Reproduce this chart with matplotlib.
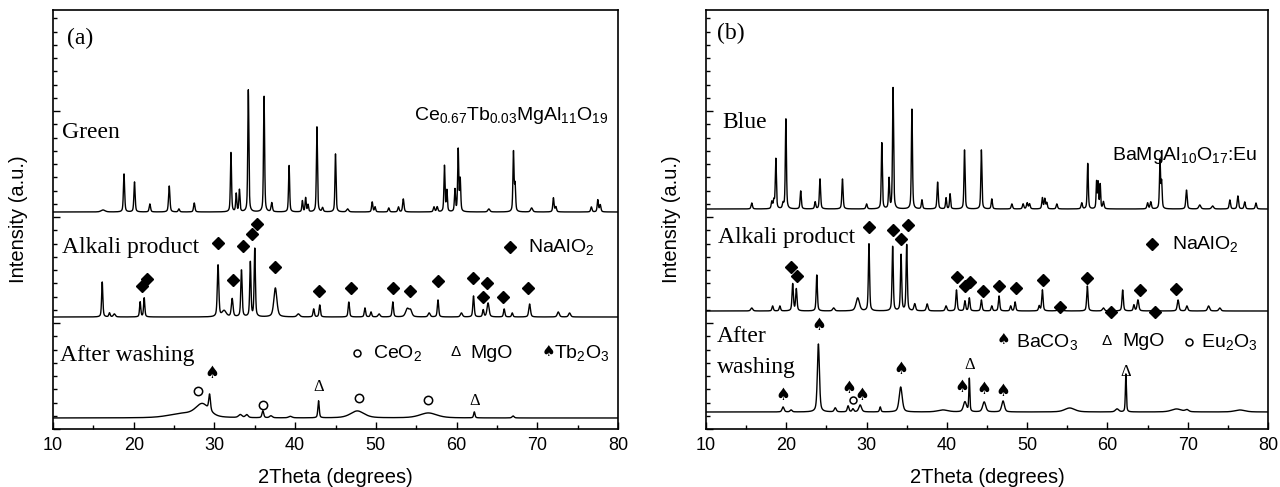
import matplotlib
matplotlib.use("Agg")
import matplotlib.pyplot as plt
from matplotlib.ticker import MultipleLocator
import numpy as np

plt.rcParams['font.family'] = ['Liberation Sans', 'DejaVu Sans']
plt.rcParams['mathtext.fontset'] = 'custom'
plt.rcParams['mathtext.rm'] = 'Liberation Sans'
plt.rcParams['mathtext.default'] = 'regular'

# peaks: (2theta, height, fwhm); heights in plot units
green_peaks = [(16.2, 2, 0.6), (18.8, 38, 0.18), (20.1, 30, 0.18), (22.0, 8, 0.2), (24.4, 26, 0.2),
               (25.6, 3, 0.2), (27.5, 9, 0.2), (32.05, 60, 0.16), (32.7, 18, 0.16), (33.1, 22, 0.16),
               (34.2, 122, 0.16), (36.15, 117, 0.16), (37.1, 9, 0.2), (39.25, 47, 0.16), (40.9, 11, 0.16),
               (41.3, 14, 0.16), (41.6, 7, 0.16), (42.7, 85, 0.16), (43.4, 4, 0.2), (45.0, 58, 0.16),
               (46.5, 3, 0.3), (49.55, 10, 0.18), (49.9, 5, 0.18), (51.6, 4, 0.2), (52.8, 5, 0.2),
               (53.4, 13, 0.2), (57.2, 5, 0.2), (57.6, 5, 0.2), (58.5, 46, 0.16), (58.8, 21, 0.16),
               (59.8, 22, 0.16), (60.2, 62, 0.16), (60.45, 32, 0.16), (64.0, 3, 0.3), (67.05, 60, 0.16),
               (67.25, 26, 0.16), (69.3, 4, 0.3), (72.0, 14, 0.18), (72.3, 5, 0.2), (76.7, 5, 0.2),
               (77.5, 12, 0.18), (77.8, 7, 0.2)]
alkali_a_peaks = [(16.1, 35, 0.18), (17.0, 4, 0.2), (17.6, 3, 0.3), (20.8, 15, 0.18), (21.3, 19, 0.18),
                  (30.45, 52, 0.22), (31.2, 6, 0.6), (32.2, 18, 0.25), (33.35, 47, 0.2), (34.45, 55, 0.18),
                  (35.0, 68, 0.18), (37.55, 29, 0.45), (40.4, 3, 0.4), (42.3, 8, 0.2), (43.05, 12, 0.2),
                  (46.65, 15, 0.2), (48.65, 9, 0.2), (49.4, 5, 0.2), (50.4, 3, 0.3), (52.1, 15, 0.2),
                  (53.9, 8, 0.5), (54.3, 6, 0.4), (56.6, 4, 0.3), (57.7, 17, 0.2), (60.6, 4, 0.3),
                  (62.1, 21, 0.2), (63.3, 7, 0.2), (63.9, 14, 0.3), (65.9, 8, 0.2), (66.9, 4, 0.2),
                  (69.05, 13, 0.25), (72.6, 5, 0.3), (74.0, 4, 0.3)]
washed_a_peaks = [(26.0, 4, 4.0), (28.5, 13, 2.0), (29.4, 16, 0.25), (33.2, 3, 0.5), (34.0, 3, 0.4),
                  (36.0, 7, 0.25), (37.0, 2, 0.4), (39.4, 1.5, 0.5), (42.9, 17, 0.2), (47.7, 7, 2.0),
                  (56.5, 5, 2.5), (62.2, 6, 0.2), (67.0, 2, 0.3)]
blue_peaks = [(15.7, 6, 0.2), (18.2, 7, 0.18), (18.45, 8, 0.18), (18.7, 50, 0.16), (19.6, 5, 0.2),
              (19.95, 91, 0.16), (21.8, 18, 0.18), (23.6, 7, 0.18), (24.2, 30, 0.18), (27.0, 30, 0.18),
              (30.0, 5, 0.2), (31.9, 66, 0.16), (32.8, 30, 0.16), (33.3, 121, 0.16), (35.65, 101, 0.16),
              (36.9, 9, 0.18), (38.85, 27, 0.18), (39.9, 11, 0.16), (40.4, 15, 0.16), (42.2, 59, 0.16),
              (44.3, 59, 0.16), (45.6, 10, 0.18), (48.1, 5, 0.2), (49.5, 5, 0.2), (50.0, 6, 0.2),
              (50.3, 5, 0.2), (51.9, 11, 0.18), (52.2, 10, 0.18), (52.45, 6, 0.18), (53.7, 5, 0.2),
              (56.8, 6, 0.2), (57.55, 46, 0.16), (58.65, 27, 0.14), (58.85, 26, 0.14), (59.1, 24, 0.14),
              (59.5, 7, 0.2), (65.0, 6, 0.2), (65.4, 7, 0.2), (66.55, 48, 0.16), (66.75, 26, 0.16),
              (69.85, 19, 0.2), (71.5, 4, 0.3), (73.1, 3, 0.3), (75.25, 9, 0.2), (76.25, 13, 0.2),
              (77.1, 7, 0.2), (78.5, 6, 0.2)]
alkali_b_peaks = [(15.7, 3, 0.3), (18.3, 5, 0.2), (19.2, 5, 0.2), (20.8, 27, 0.2), (21.25, 22, 0.2),
                  (23.8, 36, 0.18), (25.9, 3, 0.3), (28.9, 13, 0.5), (30.3, 67, 0.18), (33.25, 65, 0.18),
                  (34.3, 56, 0.18), (35.0, 66, 0.18), (36.0, 7, 0.25), (37.55, 7, 0.25), (39.9, 5, 0.25),
                  (41.2, 21, 0.2), (42.25, 10, 0.2), (42.8, 13, 0.2), (44.3, 11, 0.2), (45.6, 5, 0.2),
                  (46.5, 15, 0.2), (47.95, 5, 0.2), (48.5, 9, 0.2), (51.5, 5, 0.2), (51.9, 21, 0.2),
                  (54.1, 5, 0.4), (57.5, 25, 0.2), (59.5, 3, 0.3), (61.9, 21, 0.2), (63.3, 6, 0.2),
                  (63.8, 11, 0.25), (65.9, 3, 0.3), (68.8, 11, 0.25), (69.9, 5, 0.25), (72.6, 5, 0.3),
                  (74.0, 3, 0.3)]
washed_b_peaks = [(19.6, 5, 0.3), (20.6, 2, 0.3), (24.0, 68, 0.3), (26.1, 4, 0.3), (27.7, 6, 0.25),
                  (28.3, 3, 0.25), (29.2, 7, 0.4), (31.7, 5, 0.2), (34.25, 25, 0.45), (39.5, 2, 1.5),
                  (42.25, 10, 0.45), (42.8, 33, 0.15), (44.65, 10, 0.45), (47.0, 11, 0.4), (55.3, 4, 1.5),
                  (61.2, 3, 0.5), (62.3, 38, 0.15), (68.6, 3, 1.5), (69.9, 2, 0.5), (76.5, 2, 1.5)]

# vertical offsets of each trace
offsets_a = [217, 112, 11]
offsets_b = [220, 118, 17]

# NaAlO2 markers (2theta, y)
diam_a_x = [21.0, 21.6, 30.5, 32.3, 33.5, 34.6, 35.3, 37.55, 43.0, 46.9, 52.1, 54.2, 57.7, 62.0, 63.8, 63.25, 65.8, 68.9]
diam_a_y = [143, 150, 186, 149, 183, 195, 205, 162, 138, 141, 141, 138, 148, 151, 146, 132, 132, 141]
diam_b_x = [20.55, 21.3, 30.3, 33.25, 34.25, 35.1, 41.3, 42.25, 42.9, 44.45, 46.5, 48.6, 52.0, 54.1, 57.5, 60.4, 64.05, 65.9, 68.6]
diam_b_y = [162, 153, 202, 199, 190, 204, 152, 143, 147, 138, 143, 141, 149, 122, 151, 117, 139, 117, 140]

# phase markers on washed traces
ceo2_x, ceo2_y = [28.0, 36.0, 47.85, 56.5], [38, 24, 31, 29]
mgo_a_x, mgo_a_y = [42.95, 62.3], [42, 28]
tb2o3_x, tb2o3_y = [29.7], [56]
baco3_x = [19.6, 24.1, 27.85, 29.45, 34.3, 41.85, 44.6, 47.0]
baco3_y = [34, 104, 41, 34, 60, 42, 40, 38]
mgo_b_x, mgo_b_y = [42.9, 62.3], [64, 57]
eu2o3_x, eu2o3_y = [28.35], [29]

tt = np.arange(10, 80.001, 0.02)


def trace(peaks, base):
    y = np.full_like(tt, float(base))
    for p, h, w in peaks:
        d = (tt - p) / (w / 2)
        y += h * (0.5 / (1 + d ** 2) + 0.5 * np.exp(-np.log(2) * d ** 2))
    return y


def ring(ax, x, y, ms=5.5):
    ax.plot(x, y, 'o', ms=ms, mfc='none', mec='black', mew=1.1, ls='none')


fig = plt.figure(figsize=(12.8, 4.87), dpi=100)
ax1 = fig.add_axes([53 / 1280, 58 / 487, 565 / 1280, 419 / 487])
ax2 = fig.add_axes([706 / 1280, 58 / 487, 562 / 1280, 419 / 487])

serif = ['Liberation Serif', 'DejaVu Serif']
sym = ['DejaVu Sans']

for ax in (ax1, ax2):
    ax.set_xlim(10, 80)
    ax.set_ylim(0, 419)
    ax.xaxis.set_major_locator(MultipleLocator(10))
    ax.xaxis.set_minor_locator(MultipleLocator(5))
    ax.yaxis.set_major_locator(MultipleLocator(106))
    ax.yaxis.set_minor_locator(MultipleLocator(13.25))
    ax.tick_params(which='both', direction='in', labelsize=13, width=1)
    ax.tick_params(which='major', length=5, pad=6)
    ax.tick_params(which='minor', length=3)
    ax.tick_params(axis='y', labelleft=False)
    for s in ax.spines.values():
        s.set_linewidth(1.2)
    ax.set_xlabel('2Theta (degrees)', fontsize=14.5, labelpad=10)
    ax.set_ylabel('Intensity (a.u.)', fontsize=14.5)
    ax.yaxis.set_label_coords(-0.045, 0.5)

# ---- panel (a)
for pk, off in zip([green_peaks, alkali_a_peaks, washed_a_peaks], offsets_a):
    ax1.plot(tt, trace(pk, off), color='black', lw=1.0)
ax1.plot(diam_a_x, diam_a_y, 'D', color='black', ms=6.3, ls='none')
ax1.plot([66.6], [182], 'D', color='black', ms=6.3)
ax1.text(68.8, 182, 'NaAlO$_2$', fontsize=14, va='center')

ax1.text(11.7, 391, '(a)', family=serif, fontsize=17, va='center')
ax1.text(11.1, 297, 'Green', family=serif, fontsize=17, va='center')
ax1.text(11.1, 181, 'Alkali product', family=serif, fontsize=17, va='center')
ax1.text(10.9, 74, 'After washing', family=serif, fontsize=17, va='center')
ax1.text(78.8, 314, 'Ce$_{0.67}$Tb$_{0.03}$MgAl$_{11}$O$_{19}$', fontsize=14, va='center', ha='right')

ring(ax1, ceo2_x, ceo2_y, 6)
for x, y in zip(mgo_a_x, mgo_a_y):
    ax1.text(x, y, 'Δ', family=serif, fontsize=12, ha='center', va='center')
for x, y in zip(tb2o3_x, tb2o3_y):
    ax1.text(x, y, '♠', family=sym, fontsize=12, ha='center', va='center')

ring(ax1, [47.7], [76], 5)
ax1.text(49.6, 76, 'CeO$_2$', fontsize=14, va='center')
ax1.text(59.9, 77, 'Δ', fontsize=11, ha='center', va='center')
ax1.text(61.75, 76, 'MgO', fontsize=14, va='center')
ax1.text(71.4, 78, '♠', family=sym, fontsize=11, ha='center', va='center')
ax1.text(72.05, 76, 'Tb$_2$O$_3$', fontsize=14, va='center')

# ---- panel (b)
for pk, off in zip([blue_peaks, alkali_b_peaks, washed_b_peaks], offsets_b):
    ax2.plot(tt, trace(pk, off), color='black', lw=1.0)
ax2.plot(diam_b_x, diam_b_y, 'D', color='black', ms=6.3, ls='none')
ax2.plot([65.6], [185], 'D', color='black', ms=6.3)
ax2.text(68.0, 185, 'NaAlO$_2$', fontsize=14, va='center')

ax2.text(11.4, 396, '(b)', family=serif, fontsize=17, va='center')
ax2.text(12.0, 307, 'Blue', family=serif, fontsize=17, va='center')
ax2.text(11.5, 192, 'Alkali product', family=serif, fontsize=17, va='center')
ax2.text(11.4, 92, 'After', family=serif, fontsize=17, va='center')
ax2.text(11.4, 62, 'washing', family=serif, fontsize=17, va='center')
ax2.text(78.6, 274, 'BaMgAl$_{10}$O$_{17}$:Eu', fontsize=14, va='center', ha='right')

for x, y in zip(baco3_x, baco3_y):
    ax2.text(x, y, '♠', family=sym, fontsize=12, ha='center', va='center')
for x, y in zip(mgo_b_x, mgo_b_y):
    ax2.text(x, y, 'Δ', family=serif, fontsize=12, ha='center', va='center')
ring(ax2, eu2o3_x, eu2o3_y, 5)

ax2.text(47.1, 89, '♠', family=sym, fontsize=11, ha='center', va='center')
ax2.text(48.6, 87, 'BaCO$_3$', fontsize=14, va='center')
ax2.text(59.9, 88, 'Δ', fontsize=11, ha='center', va='center')
ax2.text(61.8, 87, 'MgO', fontsize=14, va='center')
ring(ax2, [70.1], [87], 5)
ax2.text(71.7, 87, 'Eu$_2$O$_3$', fontsize=14, va='center')

fig.savefig('out.png', dpi=100)
